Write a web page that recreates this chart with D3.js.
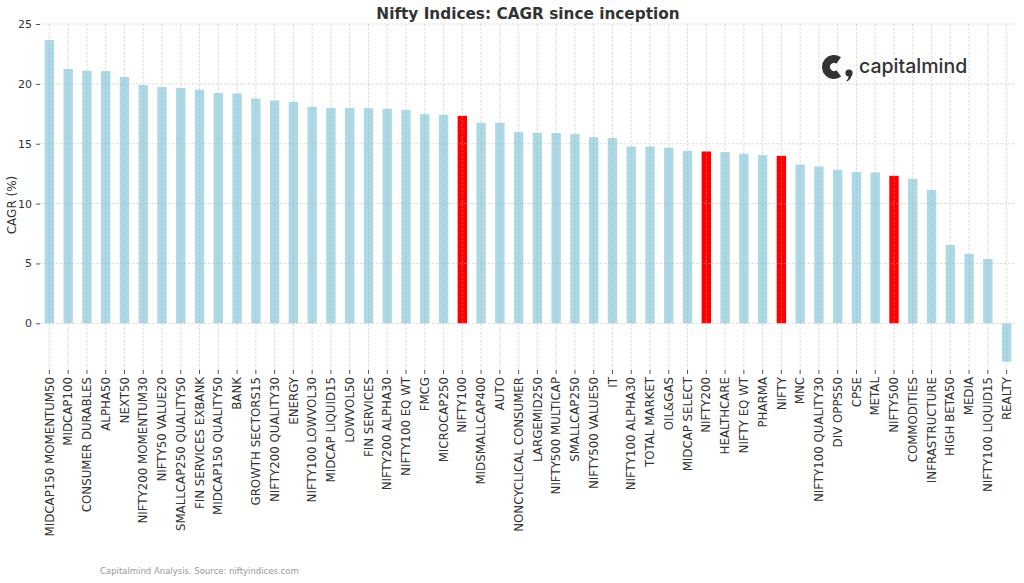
<!DOCTYPE html>
<html>
<head>
<meta charset="utf-8">
<script src="https://cdn.jsdelivr.net/npm/d3@7"></script>
<style>
  body { margin: 0; background: #fff; }
  text { font-family: "DejaVu Sans", sans-serif; }
</style>
</head>
<body>
<div id="wrapper"></div>
<script>
const indices = ["MIDCAP150 MOMENTUM50", "MIDCAP100", "CONSUMER DURABLES", "ALPHA50", "NEXT50",
  "NIFTY200 MOMENTUM30", "NIFTY50 VALUE20", "SMALLCAP250 QUALITY50", "FIN SERVICES EXBANK",
  "MIDCAP150 QUALITY50", "BANK", "GROWTH SECTORS15", "NIFTY200 QUALITY30", "ENERGY",
  "NIFTY100 LOWVOL30", "MIDCAP LIQUID15", "LOWVOL50", "FIN SERVICES", "NIFTY200 ALPHA30",
  "NIFTY100 EQ WT", "FMCG", "MICROCAP250", "NIFTY100", "MIDSMALLCAP400", "AUTO",
  "NONCYCLICAL CONSUMER", "LARGEMID250", "NIFTY500 MULTICAP", "SMALLCAP250", "NIFTY500 VALUE50",
  "IT", "NIFTY100 ALPHA30", "TOTAL MARKET", "OIL&GAS", "MIDCAP SELECT", "NIFTY200",
  "HEALTHCARE", "NIFTY EQ WT", "PHARMA", "NIFTY", "MNC", "NIFTY100 QUALITY30", "DIV OPPS50",
  "CPSE", "METAL", "NIFTY500", "COMMODITIES", "INFRASTRUCTURE", "HIGH BETA50", "MEDIA",
  "NIFTY100 LIQUID15", "REALTY"]

const cagr = [23.66, 21.24, 21.10, 21.07, 20.57, 19.90, 19.73, 19.67, 19.51, 19.23,
  19.20, 18.78, 18.61, 18.50, 18.09, 18.00, 18.00, 17.97, 17.92, 17.83,
  17.47, 17.42, 17.33, 16.75, 16.75, 15.97, 15.91, 15.90, 15.80, 15.55,
  15.47, 14.77, 14.77, 14.68, 14.41, 14.35, 14.30, 14.16, 14.05, 13.99,
  13.26, 13.10, 12.82, 12.63, 12.60, 12.32, 12.07, 11.15, 6.55, 5.80,
  5.38, -3.21]

// broad market indices shown in red
const highlighted = ["NIFTY100", "NIFTY200", "NIFTY", "NIFTY500"]
const yTicks = [0, 5, 10, 15, 20, 25]

const width = 1024, height = 583
const plot = { left: 40, right: 1016, top: 24, bottom: 370 }

const svg = d3.select("#wrapper")
  .append("svg")
    .attr("width", width)
    .attr("height", height)

const x = d3.scaleBand()
  .domain(indices)
  .range([plot.left, plot.right])
  .paddingInner(0.5)
  .paddingOuter(0.25)

const y = d3.scaleLinear()
  .domain([-3.9, 25])
  .range([plot.bottom, plot.top])

// bars
svg.append("g")
  .selectAll("rect")
  .data(indices)
  .join("rect")
    .attr("x", d => x(d))
    .attr("width", x.bandwidth())
    .attr("y", (d, i) => y(Math.max(0, cagr[i])))
    .attr("height", (d, i) => Math.abs(y(cagr[i]) - y(0)))
    .attr("fill", d => highlighted.includes(d) ? "#ff0000" : "#add8e6")

// grid on top of bars
const grid = svg.append("g")
  .attr("stroke", "#b0b0b0")
  .attr("stroke-opacity", 0.55)
  .attr("stroke-width", 0.8)
  .attr("stroke-dasharray", "2.5,1.5")

grid.selectAll(".hgrid")
  .data(yTicks)
  .join("line")
    .attr("x1", plot.left)
    .attr("x2", plot.right)
    .attr("y1", d => y(d))
    .attr("y2", d => y(d))

grid.selectAll(".vgrid")
  .data(indices)
  .join("line")
    .attr("x1", d => x(d) + x.bandwidth() / 2)
    .attr("x2", d => x(d) + x.bandwidth() / 2)
    .attr("y1", plot.top)
    .attr("y2", plot.bottom)

// y axis
const yAxis = svg.append("g")
  .attr("transform", `translate(${plot.left},0)`)
  .call(d3.axisLeft(y).tickValues(yTicks).tickSize(4).tickPadding(4))
yAxis.select(".domain").remove()
yAxis.selectAll("line").attr("stroke", "#555")
yAxis.selectAll("text")
  .attr("fill", "#333")
  .style("font-size", "11px")
  .style("font-family", "DejaVu Sans")

// x axis
const xAxis = svg.append("g")
  .attr("transform", `translate(0,${plot.bottom})`)
  .call(d3.axisBottom(x).tickSize(4).tickPadding(3))
xAxis.select(".domain").remove()
xAxis.selectAll("line").attr("stroke", "#555")
xAxis.selectAll("text")
  .attr("fill", "#333")
  .style("font-size", "11.8px")
  .style("font-family", "DejaVu Sans")
  .attr("transform", "rotate(-90)")
  .attr("text-anchor", "end")
  .attr("x", -7)
  .attr("y", 0)
  .attr("dy", "0.35em")

// title and labels
svg.append("text")
  .attr("x", (plot.left + plot.right) / 2)
  .attr("y", 19)
  .attr("text-anchor", "middle")
  .attr("fill", "#333")
  .style("font-size", "15.3px")
  .style("font-weight", "bold")
  .text("Nifty Indices: CAGR since inception")

svg.append("text")
  .attr("transform", `translate(16,${(plot.top + plot.bottom) / 2 + 8}) rotate(-90)`)
  .attr("text-anchor", "middle")
  .attr("fill", "#333")
  .style("font-size", "12px")
  .text("CAGR (%)")

svg.append("text")
  .attr("x", 100)
  .attr("y", 574)
  .attr("fill", "#999")
  .style("font-size", "8.5px")
  .text("Capitalmind Analysis. Source: niftyindices.com")

// logo
const logo = svg.append("g").attr("transform", "translate(834,67)")
logo.append("path")
  .attr("d", d3.arc()({ innerRadius: 4, outerRadius: 12, startAngle: 2.5, endAngle: 6.9 }))
  .attr("fill", "#333")
logo.append("circle")
  .attr("cx", 15).attr("cy", 6).attr("r", 3.6)
  .attr("fill", "#333")
logo.append("path")
  .attr("d", "M17.5,7 Q18,12 13,14.5 L12.5,13.3 Q15,12 14.5,8 Z")
  .attr("fill", "#333")
logo.append("text")
  .attr("x", 25)
  .attr("y", 6)
  .attr("fill", "#333")
  .style("font-family", "Inter")
  .style("font-size", "19.5px")
  .style("font-weight", "500")
  .text("capitalmind")
</script>
</body>
</html>
